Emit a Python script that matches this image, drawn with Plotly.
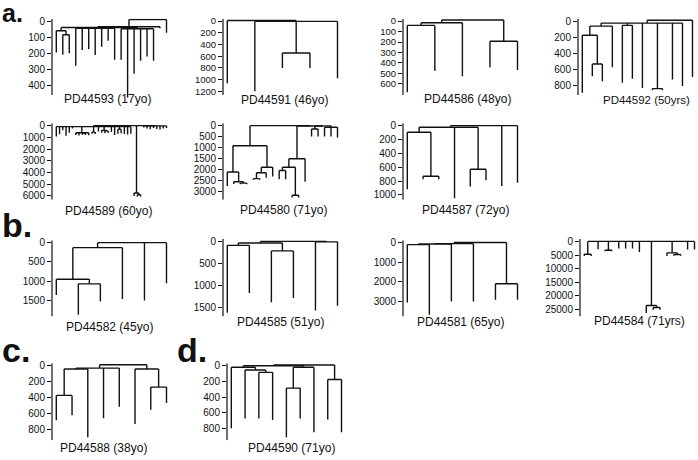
import plotly.graph_objects as go

# ---------------- data: trees as nested (node height, children...) ; leaves = tip depth
def N(h, *kids):
    return (h, kids)

tree_PD44593 = N(-10,
                 N(35,
                   N(40, N(60, 195, N(85, 210, 200)),
                     N(45, 277, 180, 175, 211, 160, 123, 240),
                     N(48, 240, 475, 328, 246, 220, 246)),
                   45),
                 72)
tree_PD44591 = N(-10, 1060, N(5, 1200, N(546, 800, 800), 975))
tree_PD44586 = N(-10, N(16, N(41, 680, 474), 527), N(193, 442, 467))
tree_PD44592 = N(-10,
                 N(25, N(62, N(176, 890, N(533, 685, 747)), 574),
                   N(53, 767, 718), 833, N(840, 860, 860), 726, 808),
                 697)
tree_PD44589 = N(0,
                 N(85, 930, 730, 400, 870, 600, 250,
                   N(600, 800, 850, N(650, 780, 800), 820),
                   N(550, 700, 720), 500,
                   N(400, 600, N(450, 650, 620)), 550, 800,
                   N(300, 700, 650), 720, 750, 700),
                 N(5750, 6000, N(5900, 6050, 6050)),
                 N(20, 150, 250, 300, 200, 280, 320, 250, 200))
tree_PD44580 = N(0,
                 N(910, N(2100, 2730, N(2540, 2640, N(2600, 2650, 2650))),
                   N(1880, N(2130, N(2400, 2450, 2450), 2360), 2300)),
                 N(15, N(1500, N(1880, N(2030, 2430, 2430), N(3150, 3250, 3250)), 2540),
                   N(10, N(150, 490, 490), N(75, 490, 490, 540))))
tree_PD44587 = N(0, N(24, N(95, 920, N(730, 775, 775)), 1050, N(630, 880, 790)), 870, 825)
tree_PD44582 = N(0, N(130, N(950, 1360, N(1070, 1870, 1525)), 1460), 1500, 1055)
tree_PD44585 = N(0, N(37, N(89, 1610, 1165), N(215, 1373, 1277)), N(10, 1560, 1448))
tree_PD44581 = N(-10, N(50, N(65, N(100, 3050, 3675), 3000), 3000), N(2100, 2915, 2920))
tree_PD44584 = N(0, N(4700, 5400, 5400), 2900, N(3260, 3600, 3600), 2650, 2650, 2650, 3860,
                 N(23500, 26200, N(24200, 25000, 25000)),
                 N(4200, 5400, N(4800, 5300, 5300)), 3000, 3000)
tree_PD44588 = N(-12, N(30, N(42, N(375, 690, 625), 905), 665, 520),
                 N(42, 737, N(270, 555, 470)))
tree_PD44590 = N(-10, N(0, N(20, 800, N(55, 675, N(85, 675, 695))),
                        N(20, N(286, 913, 675), 850)),
                 N(177, 686, 850))

labels = ["PD44593 (17yo)", "PD44591 (46yo)", "PD44586 (48yo)", "PD44592 (50yrs)",
          "PD44589 (60yo)", "PD44580 (71yo)", "PD44587 (72yo)",
          "PD44582 (45yo)", "PD44585 (51yo)", "PD44581 (65yo)", "PD44584 (71yrs)",
          "PD44588 (38yo)", "PD44590 (71yo)"]
trees = [tree_PD44593, tree_PD44591, tree_PD44586, tree_PD44592,
         tree_PD44589, tree_PD44580, tree_PD44587,
         tree_PD44582, tree_PD44585, tree_PD44581, tree_PD44584,
         tree_PD44588, tree_PD44590]
tick_max = [400, 1200, 600, 800, 6000, 3000, 1000, 1500, 1500, 3000, 25000, 800, 800]
tick_step = [100, 200, 100, 200, 1000, 500, 200, 500, 500, 1000, 5000, 200, 200]
section_letters = ["a.", "b.", "c.", "d."]

# ---------------- layout geometry (pixels)
W, H = 698, 460
# axis_x, zero_px, ref_px (px of tick_max), axis_bottom, label_cx, label_cy, label_size, tick_size
geo = [
    (52, 18.3, 83.3, 93, 107, 97, 12, 10),
    (223, 18.3, 89.3, 93, 284, 98, 12, 9.5),
    (403, 18.3, 81.7, 93, 467, 97, 12, 9.5),
    (578, 18.3, 83.3, 93, 646, 98, 11.5, 10),
    (52, 124, 195, 199, 108, 210, 12, 10),
    (223, 124, 191, 199, 283, 209.5, 12, 10),
    (403, 124, 194, 199, 465, 209, 12, 10),
    (52, 242.3, 300.7, 317, 109, 327.5, 12, 10),
    (223, 241, 308.3, 317, 280, 323, 12, 10),
    (403, 242.3, 301.7, 317, 460, 323, 12, 10),
    (580, 241, 310, 317, 639, 321.5, 12, 10),
    (52, 366.7, 430.7, 442, 103, 450, 12, 10),
    (227, 366.7, 430, 442, 291, 450, 12, 10),
]
letter_pos = [(0, 19, 25), (0, 236, 34), (0, 363, 34), (175, 363, 34)]
PW = 118


def segments(tree):
    xs, ys = [], []
    counter = [0]
    maxv = [0]

    def walk(node, ph):
        if isinstance(node, tuple):
            h, kids = node
            cx = [walk(k, h) for k in kids]
            x = sum(cx) / len(cx)
            xs.extend([min(cx), max(cx), None]); ys.extend([h, h, None])
            if ph is not None:
                xs.extend([x, x, None]); ys.extend([ph, h, None])
            return x
        x = counter[0]
        counter[0] += 1
        maxv[0] = max(maxv[0], node)
        xs.extend([x, x, None]); ys.extend([ph, node, None])
        return x

    walk(tree, None)
    return xs, ys, counter[0], maxv[0]


fig = go.Figure()
layout = dict(width=W, height=H, margin=dict(l=0, r=0, t=0, b=0),
              paper_bgcolor="white", plot_bgcolor="white", showlegend=False,
              annotations=[], shapes=[])
font = "Liberation Sans, Arial, sans-serif"

for i, (tree, lab, tmax, tstep, g) in enumerate(zip(trees, labels, tick_max, tick_step, geo), start=1):
    ax, zp, rp, ab, lcx, lcy, lsz, tsz = g
    xs, ys, n, maxv = segments(tree)
    ppu = (rp - zp) / tmax
    top_px = zp - 2.5
    bot_px = max(ab, zp + maxv * ppu + 1)
    ppx = 110.2 / (n - 1)
    xr = [-4.3 / ppx, (PW - 4.3) / ppx]
    yr = [(bot_px - zp) / ppu, (top_px - zp) / ppu]
    sx = "" if i == 1 else str(i)
    fig.add_trace(go.Scatter(x=xs, y=ys, mode="lines", xaxis="x" + sx, yaxis="y" + sx,
                             line=dict(color="#111111", width=1.4), hoverinfo="skip"))
    layout["xaxis" + sx] = dict(domain=[ax / W, (ax + PW) / W], range=xr, visible=False,
                                anchor="y" + sx)
    layout["yaxis" + sx] = dict(domain=[1 - bot_px / H, 1 - top_px / H], range=yr,
                                anchor="x" + sx, showgrid=False, zeroline=False,
                                showline=False, ticks="outside", ticklen=4, tickwidth=1,
                                tickcolor="#111111", tickformat="d",
                                tickvals=list(range(0, tmax + 1, tstep)),
                                tickfont=dict(family=font, size=tsz, color="#111111"))
    layout["shapes"].append(dict(type="line", xref="x" + sx + " domain", yref="y" + sx,
                                 x0=0, x1=0, y0=yr[1], y1=(ab - zp) / ppu,
                                 line=dict(color="#111111", width=1.2)))
    layout["annotations"].append(dict(text=lab, x=lcx / W, y=1 - lcy / H, xref="paper",
                                      yref="paper", xanchor="center", yanchor="middle",
                                      showarrow=False,
                                      font=dict(family=font, size=lsz, color="#111111")))

for t, (lx, base, fs) in zip(section_letters, letter_pos):
    layout["annotations"].append(dict(text="<b>" + t + "</b>", x=lx / W,
                                      y=1 - (base - 0.35 * fs) / H,
                                      xref="paper", yref="paper", xanchor="left",
                                      yanchor="middle", showarrow=False,
                                      font=dict(family=font, size=fs, color="#111111")))

fig.update_layout(**layout)
fig.write_html("out.html", config={"displayModeBar": False},
               post_script="document.body.style.margin='0px';")
